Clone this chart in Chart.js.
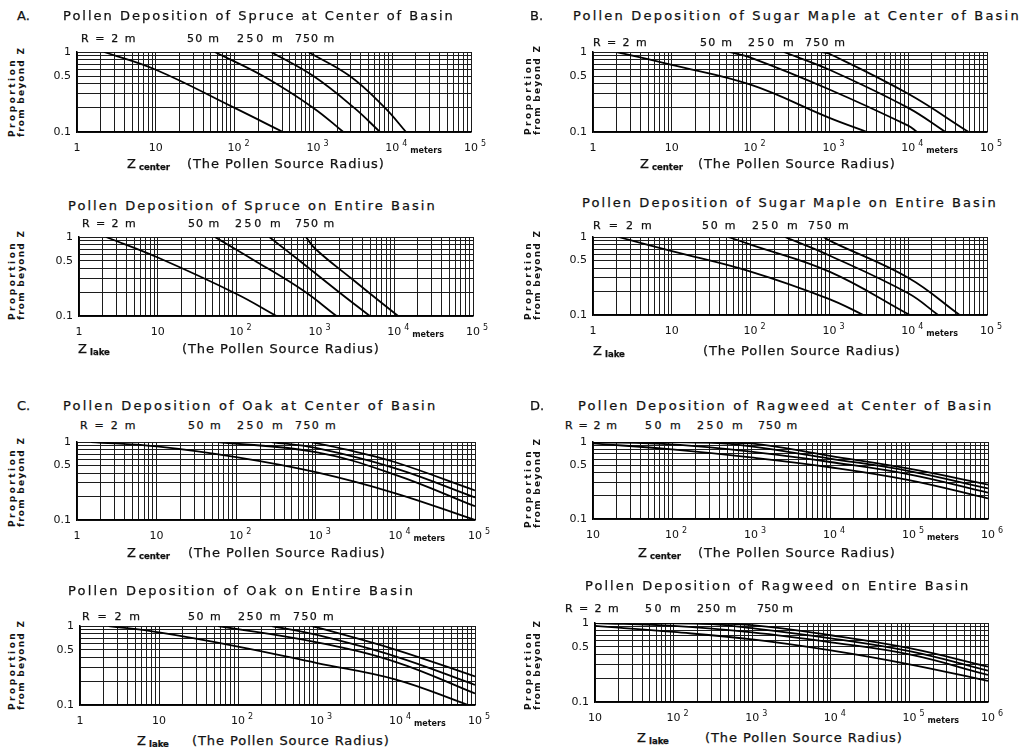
<!DOCTYPE html>
<html>
<head>
<meta charset="utf-8">
<script src="https://cdn.jsdelivr.net/npm/chart.js@4.4.0/dist/chart.umd.min.js"></script>
<style>
html, body { margin: 0; padding: 0; background: #fff; }
#page { position: relative; width: 1022px; height: 747px; overflow: hidden; font-family: "DejaVu Sans", sans-serif; color: #111; }
.box { position: absolute; }
.t { position: absolute; white-space: nowrap; line-height: 1; -webkit-text-stroke: 0.25px #111; }
.yt { position: absolute; transform-origin: 0 0; transform: rotate(-90deg); font-size: 9px; font-weight: bold; line-height: 9px; white-space: nowrap; }
.yt span { display: inline-block; }
</style>
</head>
<body>
<div id="page"></div>
<script>
/*global Chart: true*/

// grid lines for the log axes: 1..9 in every decade
var MANT = [1, 2, 3, 4, 5, 6, 7, 8, 9];
var Y_TICKS = [1, 0.5, 0.1];
var R_LABELS = ['R = 2 m', '50 m', '250 m', '750 m'];

// Z (m) and proportion for R = 2, 50, 250, 750 m
var spruceCenterZ = [[2.2, 10, 100, 410], [56, 230, 1000, 2400], [290, 1000, 3300, 7000], [860, 2900, 8100, 15000]];
var spruceCenterP = [[1, 0.6, 0.2, 0.1], [1, 0.5, 0.2, 0.1], [1, 0.5, 0.2, 0.1], [1, 0.5, 0.2, 0.1]];

var spruceLakeZ = [[2.2, 10, 100, 320], [53, 160, 700, 1850], [260, 630, 2000, 4900], [756, 1010, 2840, 11200]];
var spruceLakeP = [[1, 0.55, 0.19, 0.1], [1, 0.52, 0.21, 0.1], [1, 0.5, 0.2, 0.1], [1, 0.7, 0.3, 0.1]];

var mapleCenterZ = [[2, 10, 100, 1000, 3000], [53, 100, 1000, 10000, 13000], [263, 1000, 10000, 29700], [805, 1000, 10000, 58500]];
var mapleCenterP = [[1, 0.69, 0.39, 0.15, 0.1], [1, 0.85, 0.34, 0.12, 0.1], [1, 0.6, 0.2, 0.1], [1, 0.95, 0.3, 0.1]];

var mapleLakeZ = [[2.1, 10, 100, 1000, 2700], [52, 100, 1000, 10500], [273, 1000, 10000, 24000], [837, 1100, 10000, 45000]];
var mapleLakeP = [[1, 0.66, 0.36, 0.16, 0.1], [1, 0.8, 0.36, 0.1], [1, 0.58, 0.19, 0.1], [1, 0.86, 0.3, 0.1]];

var oakCenterZ = [[1.5, 10, 100, 1000, 10000, 100000], [59, 1000, 10000, 100000], [277, 1000, 10000, 100000], [884, 3000, 10000, 100000]];
var oakCenterP = [[1, 0.88, 0.64, 0.41, 0.22, 0.1], [1, 0.74, 0.38, 0.15], [1, 0.84, 0.46, 0.195], [1, 0.76, 0.55, 0.24]];

var oakLakeZ = [[2.3, 10, 100, 1000, 10000, 82000], [56, 1000, 10000, 100000], [268, 1000, 10000, 100000], [850, 1000, 10000, 100000]];
var oakLakeP = [[1, 0.83, 0.55, 0.34, 0.21, 0.1], [1, 0.62, 0.35, 0.14], [1, 0.77, 0.41, 0.18], [1, 0.96, 0.5, 0.23]];

var ragweedCenterZ = [[10, 100, 1000, 1e4, 1e5, 1e6], [10, 100, 1000, 1e4, 1e5, 1e6], [40, 300, 1000, 1e4, 1e5, 1e6], [150, 1000, 1e4, 1e5, 1e6]];
var ragweedCenterP = [[0.96, 0.8, 0.63, 0.47, 0.32, 0.185], [1, 0.93, 0.75, 0.55, 0.38, 0.22], [1, 0.98, 0.88, 0.61, 0.42, 0.25], [1, 0.96, 0.66, 0.45, 0.28]];

var ragweedLakeZ = [[10, 100, 1000, 1e4, 1e5, 1e6], [10, 100, 1000, 1e4, 1e5, 1e6], [50, 300, 1000, 1e4, 1e5, 1e6], [200, 1000, 1e4, 1e5, 1e6]];
var ragweedLakeP = [[0.92, 0.77, 0.62, 0.45, 0.3, 0.185], [1, 0.92, 0.76, 0.57, 0.4, 0.22], [1, 0.97, 0.86, 0.64, 0.44, 0.25], [1, 0.94, 0.7, 0.48, 0.28]];

var page = document.getElementById('page');

// panel layout: plot box (l,t,r,b) and where the texts go
var panels = [
    { letter: 'A.', title: 'Pollen Deposition of Spruce at Center of Basin', tx: 63, ty: 15, tw: 392,
      l: 77, t: 52, r: 471, b: 132, min: 1, max: 1e5, Z: spruceCenterZ, P: spruceCenterP, sub: 'center',
      ry: 38, rx: [[81, 56], [187, 33], [237, 48], [295, 40]], ax: 127, ap: 187, ay: 163, yl: 8, yb: 137 },
    { title: 'Pollen Deposition of Spruce on Entire Basin', tx: 68, ty: 205, tw: 369,
      l: 79, t: 237, r: 473, b: 316, min: 1, max: 1e5, Z: spruceLakeZ, P: spruceLakeP, sub: 'lake',
      ry: 223, rx: [[82, 55], [188, 32], [235, 48], [295, 40]], ax: 78, ap: 182, ay: 348, yl: 8, yb: 320 },
    { letter: 'B.', title: 'Pollen Deposition of Sugar Maple at Center of Basin', tx: 573, ty: 15, tw: 448,
      l: 593, t: 52, r: 987, b: 132, min: 1, max: 1e5, Z: mapleCenterZ, P: mapleCenterP, sub: 'center',
      ry: 42, rx: [[593, 55], [700, 33], [748, 48], [805, 41]], ax: 640, ap: 698, ay: 163, yl: 524, yb: 135 },
    { title: 'Pollen Deposition of Sugar Maple on Entire Basin', tx: 582, ty: 202, tw: 416,
      l: 593, t: 237, r: 987, b: 315, min: 1, max: 1e5, Z: mapleLakeZ, P: mapleLakeP, sub: 'lake',
      ry: 225, rx: [[593, 61], [702, 35], [752, 48], [808, 42]], ax: 593, ap: 703, ay: 350, yl: 524, yb: 320 },
    { letter: 'C.', title: 'Pollen Deposition of Oak at Center of Basin', tx: 63, ty: 405, tw: 374,
      l: 77, t: 442, r: 475, b: 520, min: 1, max: 1e5, Z: oakCenterZ, P: oakCenterP, sub: 'center',
      ry: 425, rx: [[80, 57], [188, 34], [237, 48], [295, 42]], ax: 127, ap: 188, ay: 552, yl: 8, yb: 527 },
    { title: 'Pollen Deposition of Oak on Entire Basin', tx: 68, ty: 590, tw: 347,
      l: 80, t: 626, r: 475, b: 705, min: 1, max: 1e5, Z: oakLakeZ, P: oakLakeP, sub: 'lake',
      ry: 616, rx: [[82, 60], [188, 34], [238, 44], [293, 42]], ax: 137, ap: 192, ay: 740, yl: 8, yb: 710 },
    { letter: 'D.', title: 'Pollen Deposition of Ragweed at Center of Basin', tx: 578, ty: 405, tw: 415,
      l: 593, t: 442, r: 988, b: 519, min: 10, max: 1e6, Z: ragweedCenterZ, P: ragweedCenterP, sub: 'center',
      ry: 425, rx: [[565, 53], [645, 38], [697, 48], [758, 40]], ax: 638, ap: 698, ay: 552, yl: 524, yb: 528 },
    { title: 'Pollen Deposition of Ragweed on Entire Basin', tx: 585, ty: 585, tw: 385,
      l: 595, t: 623, r: 988, b: 702, min: 10, max: 1e6, Z: ragweedLakeZ, P: ragweedLakeP, sub: 'lake',
      ry: 608, rx: [[565, 55], [645, 38], [697, 40], [757, 36]], ax: 637, ap: 705, ay: 737, yl: 524, yb: 710 }
];

function fit(el, w) {
    var n = el.textContent.length, nat = el.offsetWidth;
    el.style.letterSpacing = ((w - nat) / n) + 'px';
}

function txt(html, x, y, size, w) {
    var d = document.createElement('div');
    d.className = 't';
    d.style.fontSize = size + 'px';
    d.innerHTML = html;
    page.appendChild(d);
    d.style.left = x + 'px';
    d.style.top = (y - size * 0.5) + 'px';
    if (w) {
        fit(d, w);
    }
    return d;
}

function logTicks(min, max) {
    var out = [], e, lo = Math.round(Math.log10(min)), hi = Math.round(Math.log10(max));
    for (e = lo; e < hi; e++) {
        MANT.forEach(function (m) { out.push({ value: m * Math.pow(10, e) }); });
    }
    out.push({ value: max });
    return out;
}

function tickPlugin(p) {
    return {
        id: 'tickText',
        afterDraw: function (chart) {
            var ctx = chart.ctx, xs = chart.scales.x, ys = chart.scales.y, a = chart.chartArea;
            var lo = Math.round(Math.log10(p.min)), hi = Math.round(Math.log10(p.max)), e;
            ctx.save();
            ctx.fillStyle = '#111';
            ctx.font = '11px "DejaVu Sans"';
            ctx.textAlign = 'right';
            ctx.textBaseline = 'middle';
            Y_TICKS.forEach(function (v) {
                ctx.fillText(String(v), a.left - 6, ys.getPixelForValue(v));
            });
            ctx.textBaseline = 'alphabetic';
            var base = a.bottom + 19;
            for (e = lo; e <= hi; e++) {
                var px = xs.getPixelForValue(Math.pow(10, e));
                ctx.font = '11px "DejaVu Sans"';
                ctx.textAlign = 'center';
                if (e < 2) {
                    ctx.fillText(e === 0 ? '1' : '10', px, base);
                } else {
                    ctx.fillText('10', px, base);
                    ctx.font = '8px "DejaVu Sans"';
                    ctx.textAlign = 'left';
                    ctx.fillText(String(e), px + 10, base - 5);
                }
                if (e === hi - 1) {
                    ctx.font = 'bold 8px "DejaVu Sans"';
                    ctx.textAlign = 'left';
                    ctx.fillText('meters', px + 18, base + 2);
                }
            }
            ctx.restore();
        }
    };
}

function makeChart(p) {
    var L = 45, R = 40, T = 8, B = 28;
    var box = document.createElement('div');
    box.className = 'box';
    box.style.left = (p.l - L) + 'px';
    box.style.top = (p.t - T) + 'px';
    box.style.width = (p.r - p.l + L + R) + 'px';
    box.style.height = (p.b - p.t + T + B) + 'px';
    var cv = document.createElement('canvas');
    box.appendChild(cv);
    page.appendChild(box);

    var grid = { color: '#1c1c1c', lineWidth: 1, drawTicks: false };
    new Chart(cv, {
        type: 'line',
        data: {
            datasets: p.Z.map(function (zs, i) {
                return {
                    label: R_LABELS[i],
                    data: zs.map(function (z, j) { return { x: z, y: p.P[i][j] }; }),
                    borderColor: '#000',
                    borderWidth: 1.8,
                    pointRadius: 0,
                    tension: 0.4,
                    fill: false
                };
            })
        },
        options: {
            responsive: true,
            maintainAspectRatio: false,
            animation: false,
            layout: { padding: { left: L, right: R, top: T, bottom: B } },
            plugins: { legend: { display: false }, tooltip: { enabled: false } },
            scales: {
                x: {
                    type: 'logarithmic', min: p.min, max: p.max,
                    afterBuildTicks: function (s) { s.ticks = logTicks(p.min, p.max); },
                    ticks: { display: false, autoSkip: false },
                    grid: grid,
                    border: { color: '#000', width: 1.5 }
                },
                y: {
                    type: 'logarithmic', min: 0.1, max: 1,
                    afterBuildTicks: function (s) { s.ticks = logTicks(0.1, 1); },
                    ticks: { display: false, autoSkip: false },
                    grid: grid,
                    border: { color: '#000', width: 1.5 }
                }
            }
        },
        plugins: [tickPlugin(p)]
    });

    // texts
    if (p.letter) {
        txt(p.letter, p.letter === 'A.' || p.letter === 'C.' ? 17 : 530, p.ty, 13);
    }
    txt(p.title, p.tx, p.ty, 13, p.tw);
    R_LABELS.forEach(function (s, i) {
        txt(s, p.rx[i][0], p.ry, 11, p.rx[i][1]);
    });
    txt('Z', p.ax, p.ay, 13);
    txt(p.sub, p.ax + 12, p.ay + 4, 8.5).style.fontWeight = 'bold';
    txt('(The Pollen Source Radius)', p.ap, p.ay, 13, 198);

    var yt = document.createElement('div');
    yt.className = 'yt';
    yt.innerHTML = '<span>Proportion</span><br><span>from beyond Z</span>';
    yt.style.left = p.yl + 'px';
    yt.style.top = p.yb + 'px';
    page.appendChild(yt);
    fit(yt.children[0], 79);
    fit(yt.children[2], 90);
}

panels.forEach(makeChart);
</script>
</body>
</html>
